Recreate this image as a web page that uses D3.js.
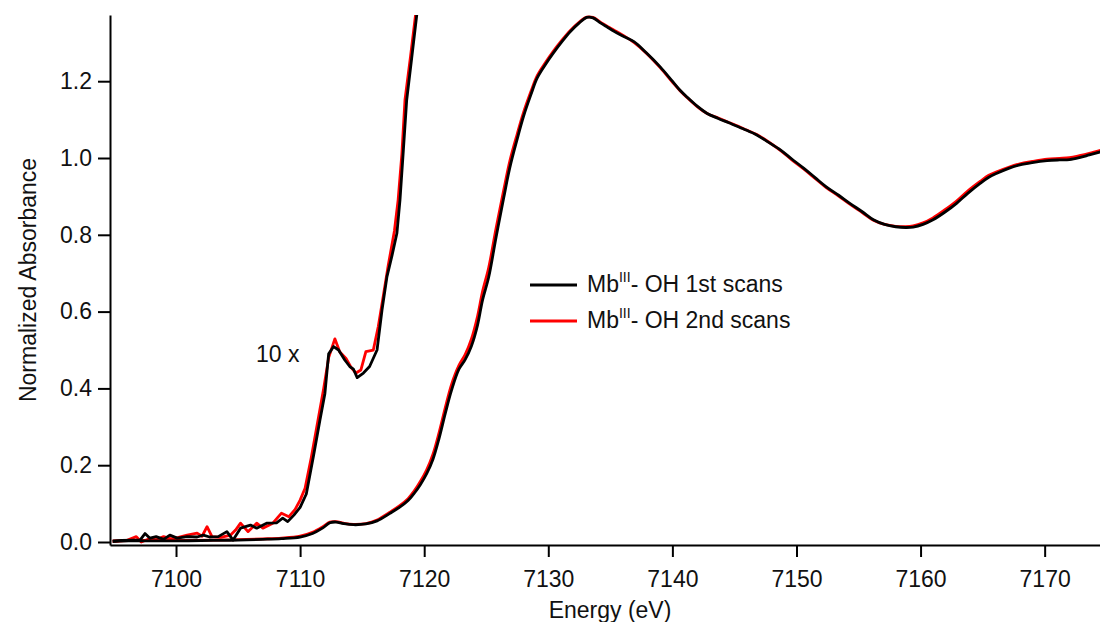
<!DOCTYPE html>
<html>
<head>
<meta charset="utf-8">
<script src="https://cdn.jsdelivr.net/npm/d3@7"></script>
<style>
  body { margin: 0; background: #fff; }
  svg { display: block; font-family: "Liberation Sans", Arial, sans-serif; }
</style>
</head>
<body>
<svg id="chart"></svg>
<script>
// energy (eV), normalized absorbance
const scan1Main = [
  [7094.9,0.002],[7097,0.003],[7100,0.003],[7103,0.004],[7105,0.005],[7107,0.007],[7108.5,0.009],
  [7110.0,0.013],[7111.0,0.022],[7111.8,0.036],[7112.4,0.050],[7112.9,0.052],[7113.5,0.048],
  [7114.3,0.045],[7115.3,0.047],[7116.2,0.055],[7117.2,0.074],[7118.0,0.090],[7118.7,0.108],
  [7119.2,0.127],[7119.7,0.150],[7120.2,0.178],[7120.7,0.215],[7121.2,0.270],[7121.7,0.335],
  [7122.2,0.395],[7122.8,0.450],[7123.3,0.475],[7123.8,0.510],[7124.3,0.565],[7124.7,0.630],
  [7125.2,0.690],[7125.8,0.795],[7126.4,0.895],[7126.9,0.975],[7127.5,1.050],[7128.0,1.108],
  [7128.6,1.165],[7129.1,1.208],[7129.8,1.245],[7130.4,1.273],[7131.1,1.303],[7131.8,1.330],
  [7132.5,1.352],[7133.1,1.366],[7133.6,1.365],[7134.2,1.352],[7134.8,1.340],[7135.3,1.330],
  [7136.0,1.318],[7136.9,1.303],[7137.9,1.274],[7139.0,1.238],[7140.0,1.200],[7140.6,1.177],
  [7141.2,1.158],[7142.0,1.135],[7142.8,1.116],[7143.7,1.103],[7144.6,1.091],[7145.7,1.076],
  [7146.8,1.060],[7147.7,1.042],[7148.7,1.021],[7149.6,0.998],[7150.6,0.973],[7151.5,0.949],
  [7152.4,0.925],[7153.4,0.903],[7154.3,0.882],[7155.3,0.860],[7156.2,0.839],[7157.1,0.827],
  [7158.0,0.821],[7158.8,0.819],[7159.4,0.820],[7160.2,0.827],[7161.0,0.839],[7162.0,0.860],
  [7162.9,0.882],[7163.8,0.908],[7164.8,0.934],[7165.5,0.950],[7166.2,0.961],[7167.1,0.973],
  [7168.0,0.982],[7169.0,0.988],[7170.2,0.993],[7171.2,0.995],[7172.0,0.996],[7172.8,1.001],
  [7173.6,1.008],[7174.5,1.016]
];

const scan2Main = [
  [7094.9,0.002],[7097,0.004],[7100,0.004],[7103,0.005],[7105,0.006],[7107,0.008],[7108.5,0.010],
  [7110.0,0.015],[7111.0,0.025],[7111.8,0.039],[7112.4,0.052],[7112.9,0.053],[7113.5,0.049],
  [7114.3,0.046],[7115.3,0.048],[7116.2,0.057],[7117.2,0.077],[7118.0,0.094],[7118.7,0.113],
  [7119.2,0.133],[7119.7,0.158],[7120.2,0.188],[7120.7,0.228],[7121.2,0.285],[7121.7,0.350],
  [7122.2,0.410],[7122.8,0.460],[7123.3,0.488],[7123.8,0.528],[7124.3,0.588],[7124.7,0.652],
  [7125.2,0.715],[7125.8,0.818],[7126.4,0.915],[7126.9,0.992],[7127.5,1.063],[7128.0,1.118],
  [7128.6,1.173],[7129.1,1.214],[7129.8,1.250],[7130.4,1.278],[7131.1,1.307],[7131.8,1.333],
  [7132.5,1.354],[7133.1,1.367],[7133.6,1.366],[7134.2,1.354],[7134.8,1.342],[7135.3,1.333],
  [7136.0,1.320],[7136.9,1.301],[7137.9,1.273],[7139.0,1.236],[7140.0,1.198],[7140.6,1.176],
  [7141.2,1.157],[7142.0,1.134],[7142.8,1.116],[7143.7,1.104],[7144.6,1.092],[7145.7,1.077],
  [7146.8,1.061],[7147.7,1.043],[7148.7,1.020],[7149.6,0.996],[7150.6,0.971],[7151.5,0.947],
  [7152.4,0.923],[7153.4,0.901],[7154.3,0.880],[7155.3,0.858],[7156.2,0.838],[7157.1,0.827],
  [7158.0,0.822],[7158.8,0.821],[7159.4,0.823],[7160.2,0.831],[7161.0,0.844],[7162.0,0.866],
  [7162.9,0.888],[7163.8,0.914],[7164.8,0.939],[7165.5,0.955],[7166.2,0.965],[7167.1,0.976],
  [7168.0,0.985],[7169.0,0.991],[7170.2,0.997],[7171.2,0.999],[7172.0,1.001],[7172.8,1.006],
  [7173.6,1.012],[7174.5,1.020]
];

// pre-edge magnified 10x
const scan1Zoom = [
  [7094.9,0.002],[7095.6,0.004],[7096.6,0.005],[7097.1,0.005],[7097.5,0.022],[7097.9,0.010],
  [7098.4,0.014],[7099.0,0.007],[7099.5,0.018],[7100.1,0.010],[7100.9,0.014],[7101.7,0.013],
  [7102.2,0.018],[7102.7,0.013],[7103.4,0.014],[7104.1,0.027],[7104.6,0.005],[7105.2,0.036],
  [7106.0,0.044],[7106.5,0.036],[7107.3,0.049],[7108.1,0.050],[7108.6,0.062],[7109.0,0.053],
  [7109.5,0.070],[7110.0,0.090],[7110.5,0.125],[7111.1,0.228],[7111.6,0.318],[7112.0,0.387],
  [7112.3,0.490],[7112.7,0.509],[7113.1,0.500],[7113.6,0.474],[7114.0,0.457],[7114.3,0.450],
  [7114.6,0.428],[7115.1,0.440],[7115.6,0.457],[7116.2,0.500],[7116.6,0.604],[7117.0,0.691],
  [7117.4,0.745],[7117.8,0.804],[7118.05,0.891],[7118.32,1.020],[7118.59,1.151],[7119.0,1.262],
  [7119.4,1.372],[7119.5,1.400]
];

const scan2Zoom = [
  [7094.9,0.002],[7096.0,0.004],[7096.8,0.014],[7097.2,0.000],[7097.8,0.008],[7098.4,0.006],
  [7099.0,0.014],[7099.6,0.008],[7100.2,0.012],[7100.9,0.018],[7101.7,0.023],[7102.1,0.015],
  [7102.5,0.040],[7102.9,0.014],[7103.6,0.012],[7104.4,0.018],[7104.8,0.031],[7105.2,0.049],
  [7105.8,0.027],[7106.5,0.049],[7107.0,0.036],[7107.8,0.049],[7108.5,0.075],[7109.1,0.066],
  [7109.6,0.085],[7110.0,0.109],[7110.4,0.140],[7110.9,0.220],[7111.4,0.310],[7111.9,0.400],
  [7112.3,0.480],[7112.8,0.529],[7113.2,0.495],[7113.7,0.478],[7114.1,0.455],[7114.5,0.440],
  [7114.9,0.448],[7115.3,0.496],[7115.9,0.500],[7116.3,0.561],[7116.7,0.640],[7117.1,0.720],
  [7117.6,0.810],[7117.9,0.891],[7118.2,1.010],[7118.45,1.151],[7118.9,1.265],[7119.3,1.372],
  [7119.4,1.400]
];

const xTicks = [7100, 7110, 7120, 7130, 7140, 7150, 7160, 7170];
const yTicks = [0.0, 0.2, 0.4, 0.6, 0.8, 1.0, 1.2];
const legendLabels = ["1st scans", "2nd scans"];
const seriesColors = ["#000000", "#ff0000"];

const width = 1100, height = 622;
const plotL = 110, plotR = 1100, plotT = 15, plotB = 545;

const svg = d3.select("#chart").attr("width", width).attr("height", height);

const x = d3.scaleLinear().domain([7094.68, 7174.46]).range([plotL, plotR]);
const y = d3.scaleLinear().domain([-0.0078, 1.3724]).range([plotB, plotT]);

svg.append("defs").append("clipPath").attr("id", "plot")
  .append("rect").attr("x", plotL).attr("y", plotT).attr("width", plotR - plotL).attr("height", plotB - plotT);

const line = d3.line().x(d => x(d[0])).y(d => y(d[1]));
const smooth = d3.line().x(d => x(d[0])).y(d => y(d[1])).curve(d3.curveCatmullRom);

const plot = svg.append("g").attr("clip-path", "url(#plot)");

// red drawn underneath black
[[scan2Zoom, line, 1], [scan2Main, smooth, 1], [scan1Zoom, line, 0], [scan1Main, smooth, 0]].forEach(([data, gen, c]) => {
  plot.append("path")
    .attr("d", gen(data))
    .attr("fill", "none")
    .attr("stroke", seriesColors[c])
    .attr("stroke-width", 2.8)
    .attr("stroke-linejoin", "round");
});

const xAxis = d3.axisBottom(x).tickValues(xTicks).tickSize(12).tickSizeOuter(0).tickPadding(14).tickFormat(d3.format("d"));
const yAxis = d3.axisLeft(y).tickValues(yTicks).tickSize(12).tickSizeOuter(0).tickPadding(6).tickFormat(d3.format(".1f"));

const gx = svg.append("g").attr("transform", `translate(0,${plotB})`).call(xAxis);
const gy = svg.append("g").attr("transform", `translate(${plotL},0)`).call(yAxis);

[gx, gy].forEach(g => {
  g.select(".domain").attr("stroke", "#000").attr("stroke-width", 2);
  g.selectAll(".tick line").attr("stroke", "#000").attr("stroke-width", 2);
  g.selectAll(".tick text").attr("fill", "#111").style("font-size", "23px").style("font-family", "Liberation Sans, Arial, sans-serif");
});

svg.append("text")
  .attr("x", 610).attr("y", 618)
  .attr("text-anchor", "middle")
  .style("font-size", "23px")
  .attr("fill", "#111")
  .text("Energy (eV)");

svg.append("text")
  .attr("transform", "translate(36,280) rotate(-90)")
  .attr("text-anchor", "middle")
  .style("font-size", "23px")
  .attr("fill", "#111")
  .text("Normalized Absorbance");

svg.append("text")
  .attr("x", 256).attr("y", 362)
  .style("font-size", "23px")
  .attr("fill", "#111")
  .text("10 x");

// legend
const legend = svg.append("g");
legendLabels.forEach((lab, i) => {
  const ly = 285 + i * 36;
  legend.append("line")
    .attr("x1", 530).attr("x2", 577)
    .attr("y1", ly).attr("y2", ly)
    .attr("stroke", seriesColors[i]).attr("stroke-width", 3);
  const t = legend.append("text")
    .attr("x", 587).attr("y", ly + 7)
    .style("font-size", "23px")
    .attr("fill", "#111");
  t.append("tspan").text("Mb");
  t.append("tspan").attr("dy", -10).style("font-size", "14px").text("III");
  t.append("tspan").attr("dy", 10).text("- OH " + lab);
});
</script>
</body>
</html>
